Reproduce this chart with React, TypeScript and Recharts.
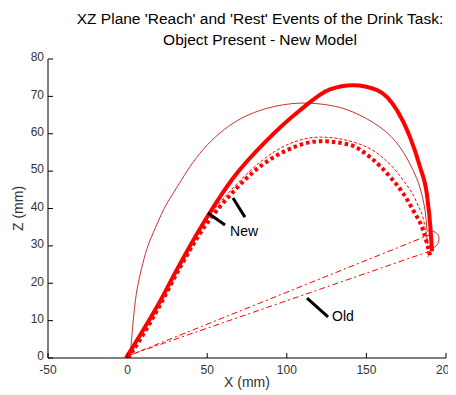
import React from 'react';
import { LineChart, Line, XAxis, YAxis, ReferenceLine, ReferenceDot } from 'recharts';

const xTicks = [-50, 0, 50, 100, 150, 200];
const yTicks = [0, 10, 20, 30, 40, 50, 60, 70, 80];

const newReach = [
  { x: -1, y: 0 }, { x: 10, y: 7.6 }, { x: 20.4, y: 15.2 }, { x: 30, y: 22.9 },
  { x: 40, y: 30.6 }, { x: 51.8, y: 39 }, { x: 66.2, y: 48.1 }, { x: 87.6, y: 58.3 },
  { x: 108.3, y: 66.3 }, { x: 127.1, y: 71.9 }, { x: 141.6, y: 73.0 }, { x: 156.7, y: 71.7 },
  { x: 169.2, y: 66.3 }, { x: 177.4, y: 59.1 }, { x: 183.7, y: 51.1 }, { x: 188.1, y: 43.5 },
  { x: 190.2, y: 35 }, { x: 191.2, y: 28.5 },
];

const newRest = [
  { x: 0.3, y: 0 }, { x: 9.7, y: 6.2 }, { x: 20.4, y: 14.2 }, { x: 33, y: 24.3 },
  { x: 48.6, y: 35.3 }, { x: 66.2, y: 44.4 }, { x: 78.8, y: 49.7 }, { x: 100.1, y: 55.6 },
  { x: 120.9, y: 58 }, { x: 139.8, y: 57 }, { x: 152.4, y: 53.7 }, { x: 165, y: 48.4 },
  { x: 173, y: 44.1 }, { x: 179.3, y: 39.6 }, { x: 185.6, y: 34.2 }, { x: 190, y: 27.5 },
];

const oldReach = [
  { x: 1.5, y: 0 }, { x: 2.5, y: 5 }, { x: 4, y: 12 }, { x: 6, y: 18.5 },
  { x: 8.8, y: 24 }, { x: 12, y: 29 }, { x: 16, y: 33.4 }, { x: 23, y: 40 },
  { x: 31, y: 45.7 }, { x: 45.5, y: 54.8 }, { x: 66.2, y: 62.8 }, { x: 87.6, y: 66.8 },
  { x: 108.3, y: 68.2 }, { x: 127.1, y: 67.6 }, { x: 141.6, y: 65.8 }, { x: 158.5, y: 61.8 },
  { x: 171.1, y: 56.4 }, { x: 179, y: 50.5 }, { x: 183.7, y: 45.5 }, { x: 186.8, y: 39.6 },
  { x: 188.1, y: 34 },
];

const oldReachLoop = [
  { x: 188.1, y: 34 }, { x: 193.1, y: 33.7 }, { x: 195.6, y: 32.1 }, { x: 194.3, y: 30.2 },
  { x: 191.2, y: 29.4 },
];

const oldRest = [
  { x: 1.5, y: 0.8 }, { x: 20.4, y: 14.7 }, { x: 48.6, y: 36.4 }, { x: 66.2, y: 45.5 },
  { x: 100, y: 57 }, { x: 121, y: 59.1 }, { x: 141.6, y: 57.8 }, { x: 156.7, y: 54.8 },
  { x: 173, y: 47.6 }, { x: 181.8, y: 41.4 }, { x: 186.8, y: 35 }, { x: 188.5, y: 29.7 },
  { x: 188.7, y: 27 },
];

const oldLineUpper = [{ x: 0, y: 0.5 }, { x: 190, y: 33 }];
const oldLineLower = [{ x: 4, y: 1.2 }, { x: 190, y: 28.6 }];

const newPointers = [
  [{ x: 50.5, y: 38.8 }, { x: 61.2, y: 35.6 }],
  [{ x: 66.2, y: 42.8 }, { x: 73.7, y: 37.7 }],
];
const oldPointer = [{ x: 112.7, y: 16 }, { x: 125.9, y: 11 }];
const labels = [
  { text: 'New', x: 64.4, y: 34.0 },
  { text: 'Old', x: 128.4, y: 11.2 },
];

const FONT = '"Liberation Sans", Arial, sans-serif';
const RED = '#ff0000';

const YLabel = (props: any) => {
  const vb = props.viewBox || {};
  const cx = vb.x + 10;
  const cy = vb.y + vb.height / 2;
  return (
    <text x={cx} y={cy} transform={`rotate(-90, ${cx}, ${cy})`} textAnchor="middle"
      dominantBaseline="central" fontSize={14} fill="#333" fontFamily={FONT}>Z (mm)</text>
  );
};

const XLabel = (props: any) => {
  const vb = props.viewBox || {};
  const cx = vb.x + vb.width / 2;
  const cy = vb.y + 24;
  return (
    <text x={cx} y={cy} textAnchor="middle" dominantBaseline="central" fontSize={14}
      fill="#333" fontFamily={FONT}>X (mm)</text>
  );
};

export default function App() {
  return (
    <div style={{ position: 'relative', width: 448, height: 387, fontFamily: FONT, background: '#fff' }}>
      <div style={{ position: 'absolute', left: 27, top: 0, width: 450, textAlign: 'center', fontSize: 15.5, lineHeight: '21px', color: '#000' }}>
        <div>XZ Plane 'Reach' and 'Rest' Events of the Drink Task:</div>
        <div>Object Present - New Model</div>
      </div>
      <LineChart width={448} height={387} margin={{ top: 51, right: 10, bottom: 7, left: 0 }}>
        <XAxis type="number" dataKey="x" domain={[-50, 200]} ticks={xTicks} allowDataOverflow
          height={30} tickSize={-5} tickMargin={12} stroke="#000"
          tick={{ fontSize: 12, fill: '#333', fontFamily: FONT }} label={<XLabel />} />
        <YAxis type="number" dataKey="y" domain={[0, 80]} ticks={yTicks} allowDataOverflow
          width={40} tickSize={-5} tickMargin={9} stroke="#000"
          tick={{ fontSize: 12, fill: '#333', fontFamily: FONT, dy: -2 }} label={<YLabel />} />
        <Line data={oldLineUpper} dataKey="y" type="linear" stroke={RED} strokeWidth={1}
          strokeDasharray="6 3 2 3" dot={false} isAnimationActive={false} />
        <Line data={oldLineLower} dataKey="y" type="linear" stroke={RED} strokeWidth={1}
          strokeDasharray="6 3 2 3" dot={false} isAnimationActive={false} />
        <Line data={oldReach} dataKey="y" type="natural" stroke="#c83232" strokeWidth={1}
          dot={false} isAnimationActive={false} />
        <Line data={oldReachLoop} dataKey="y" type="natural" stroke="#c83232" strokeWidth={1}
          dot={false} isAnimationActive={false} />
        <Line data={oldRest} dataKey="y" type="monotone" stroke={RED} strokeWidth={1}
          strokeDasharray="3 2" dot={false} isAnimationActive={false} />
        <Line data={newRest} dataKey="y" type="monotone" stroke={RED} strokeWidth={4}
          strokeDasharray="3.5 3" dot={false} isAnimationActive={false} />
        <Line data={newReach} dataKey="y" type="monotone" stroke={RED} strokeWidth={4}
          dot={false} isAnimationActive={false} />
        {newPointers.map((seg, i) => (
          <ReferenceLine key={`np${i}`} segment={seg} stroke="#000" strokeWidth={3} ifOverflow="visible" />
        ))}
        <ReferenceLine segment={oldPointer} stroke="#000" strokeWidth={3} ifOverflow="visible" />
        {labels.map((l) => (
          <ReferenceDot key={l.text} x={l.x} y={l.y} r={0} stroke="none" fill="none" ifOverflow="visible"
            label={{ value: l.text, position: 'right', offset: 0, fill: '#000', fontSize: 14, fontFamily: FONT }} />
        ))}
      </LineChart>
    </div>
  );
}
